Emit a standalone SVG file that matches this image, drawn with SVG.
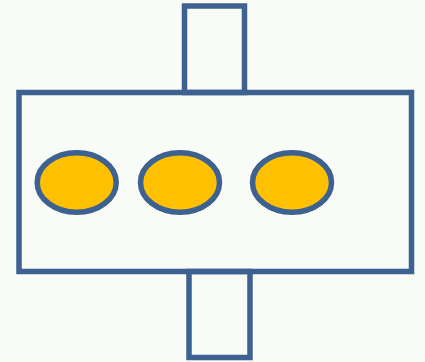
<svg xmlns="http://www.w3.org/2000/svg" width="425" height="362" viewBox="0 0 425 362">
<style>
.s{fill:none;stroke:#3D6190;stroke-width:5.5;}
.e{fill:#FFC000;stroke:#3D6190;stroke-width:5.5;}
</style>
<rect width="425" height="362" fill="#F8FBF6"/>
<g id="top-tab"><rect class="s" x="184.5" y="6" width="60" height="86.5"/></g>
<g id="bottom-tab"><rect class="s" x="189" y="271.5" width="61" height="86"/></g>
<g id="body"><rect class="s" x="19" y="92.5" width="392.5" height="179"/></g>
<g id="ellipse1"><ellipse class="e" cx="76.7" cy="182.5" rx="39.5" ry="29.7"/></g>
<g id="ellipse2"><ellipse class="e" cx="180" cy="182.5" rx="39.5" ry="29.7"/></g>
<g id="ellipse3"><ellipse class="e" cx="292" cy="182.5" rx="39.5" ry="29.7"/></g>
</svg>
